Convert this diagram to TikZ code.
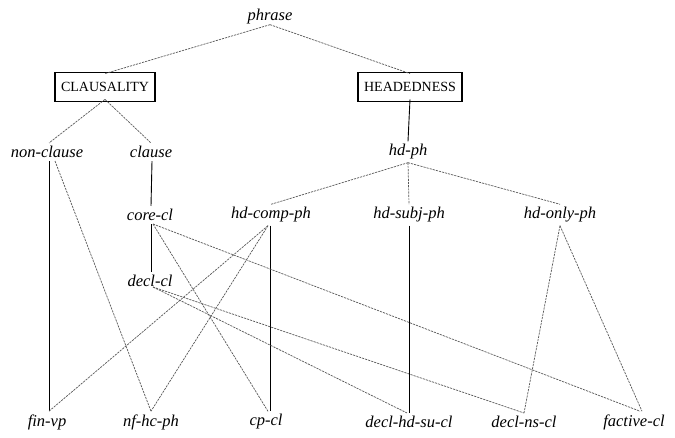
\documentclass[tikz,border=0pt]{standalone}
\usepackage{fontspec}
\setmainfont{Liberation Serif}
\begin{document}
\begin{tikzpicture}[x=1pt,y=-1pt,
  lab/.style={font=\fontsize{16.5}{18}\selectfont\itshape, inner sep=3pt},
  boxnode/.style={draw, line width=1.8pt, font=\fontsize{14}{16}\selectfont, inner xsep=6pt, minimum height=29pt},
  solidl/.style={line width=0.9pt},
  dotl/.style={line width=0.7pt, draw=black!65, dash pattern=on 2.2pt off 1pt}]
\useasboundingbox[fill=white] (0,0) rectangle (675,438);
% nodes
\node[lab] (phrase) at (270,17) {phrase};
\node[boxnode] (claus) at (105,87) {CLAUSALITY};
\node[boxnode] (head) at (410,87) {HEADEDNESS};
\node[lab] (nonclause) at (47,152) {non-clause};
\node[lab] (clause) at (151,152) {clause};
\node[lab] (hdph) at (408,152) {hd-ph};
\node[lab] (corecl) at (150,215) {core-cl};
\node[lab] (hdcomp) at (271,215) {hd-comp-ph};
\node[lab] (hdsubj) at (409,215) {hd-subj-ph};
\node[lab] (hdonly) at (560,215) {hd-only-ph};
\node[lab] (declcl) at (150,281) {decl-cl};
\node[lab] (finvp) at (47,422) {fin-vp};
\node[lab] (nfhc) at (151,422) {nf-hc-ph};
\node[lab] (cpcl) at (266,422) {cp-cl};
\node[lab] (dhsc) at (409,422) {decl-hd-su-cl};
\node[lab] (dnsc) at (524,422) {decl-ns-cl};
\node[lab] (fact) at (634,422) {factive-cl};
% upper tree
\draw[dotl] ([yshift=3pt]phrase.south) -- ([yshift=-2pt]claus.north);
\draw[dotl] ([yshift=3pt]phrase.south) -- ([yshift=-2pt]head.north);
\draw[dotl] ([yshift=3pt]claus.south) -- ([xshift=2pt]nonclause.north);
\draw[dotl] ([yshift=3pt]claus.south) -- (clause.north);
\draw[solidl] ([yshift=3pt]head.south) -- (hdph.north);
\draw[solidl] ([xshift=1pt]clause.south) -- ([xshift=1pt]corecl.north);
\draw[dotl] (hdph.south) -- (hdcomp.north);
\draw[dotl] (hdph.south) -- (hdsubj.north);
\draw[dotl] (hdph.south) -- (hdonly.north);
\draw[solidl] ([xshift=1pt]corecl.south) -- ([xshift=1pt]declcl.north);
% lower connections
\draw[solidl] ([xshift=2pt]nonclause.south) -- ([xshift=2pt]finvp.north);
\draw[dotl] ([xshift=8pt]nonclause.south) -- (nfhc.north);
\draw[dotl] ([xshift=-3pt]hdcomp.south) -- ([xshift=2pt]finvp.north);
\draw[dotl] ([xshift=-3pt]hdcomp.south) -- (nfhc.north);
\draw[solidl] ([xshift=-1pt]hdcomp.south) -- ([xshift=4pt]cpcl.north);
\draw[dotl] ([xshift=3pt]corecl.south) -- ([xshift=2pt]cpcl.north);
\draw[dotl] ([xshift=3pt]corecl.south) -- ([xshift=6pt]fact.north);
\draw[dotl] ([xshift=3pt,yshift=3pt]declcl.south) -- ([xshift=-2pt]dhsc.north);
\draw[dotl] ([xshift=3pt,yshift=3pt]declcl.south) -- (dnsc.north);
\draw[solidl] (hdsubj.south) -- (dhsc.north);
\draw[dotl] (hdonly.south) -- (dnsc.north);
\draw[dotl] (hdonly.south) -- ([xshift=8pt]fact.north);
\end{tikzpicture}
\end{document}
